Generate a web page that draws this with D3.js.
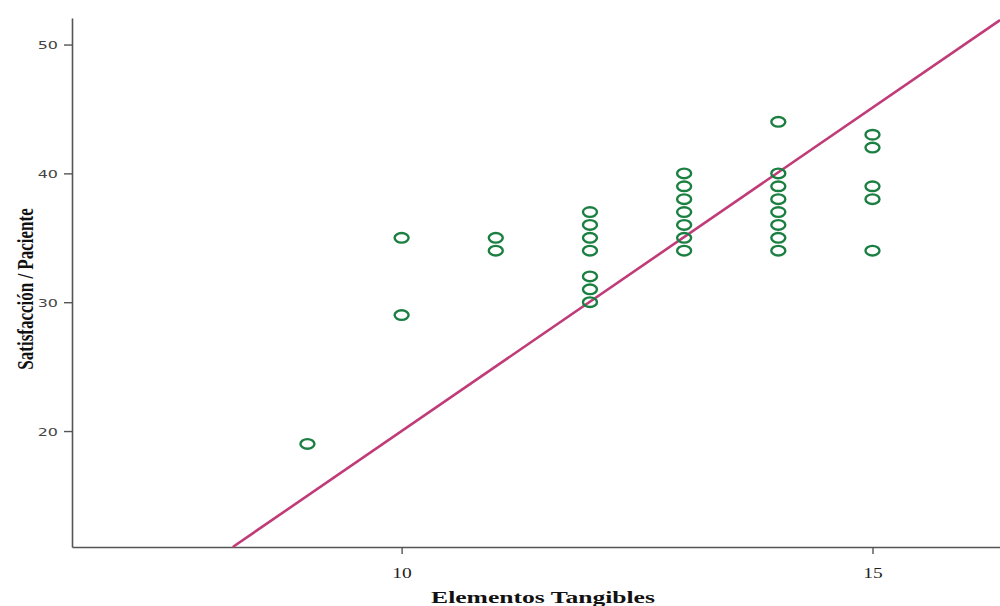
<!DOCTYPE html>
<html>
<head>
<meta charset="utf-8">
<script src="https://cdn.jsdelivr.net/npm/d3@7"></script>
<style>
  body { margin: 0; background: #fff; }
</style>
</head>
<body>
<div id="chart"></div>
<script>
// datos
var tangibles = [9, 10, 10, 11, 11,
  12, 12, 12, 12, 12, 12, 12,
  13, 13, 13, 13, 13, 13, 13,
  14, 14, 14, 14, 14, 14, 14, 14,
  15, 15, 15, 15, 15];
var satisfaccion = [19, 35, 29, 35, 34,
  37, 36, 35, 34, 32, 31, 30,
  40, 39, 38, 37, 36, 35, 34,
  44, 40, 39, 38, 37, 36, 35, 34,
  43, 42, 39, 38, 34];
var xTicks = [10, 15];
var yTicks = [20, 30, 40, 50];
// recta de ajuste
var pendiente = 5.02;
var intercepto = -30.2;

var W = 1000, H = 606;
var svg = d3.select('#chart').append('svg')
  .attr('width', W)
  .attr('height', H);

var x = d3.scaleLinear().domain([6.5, 16.354]).range([72, 1000]);
var y = d3.scaleLinear().domain([11, 52.06]).range([547, 18]);

var axisColor = '#555';

// eje y
var gy = svg.append('g')
  .attr('transform', 'translate(72,0)')
  .call(d3.axisLeft(y).tickValues(yTicks).tickSize(8).tickSizeOuter(0).tickFormat(d3.format('d')));
gy.select('.domain').attr('stroke', axisColor).attr('stroke-width', 1.6);
gy.selectAll('.tick line').attr('stroke', axisColor).attr('stroke-width', 1.4);
gy.selectAll('.tick text')
  .attr('x', null).attr('dy', null)
  .attr('transform', 'translate(-14,4) scale(1.45,1)')
  .attr('fill', '#444')
  .style('font-family', 'DejaVu Sans, sans-serif')
  .style('font-size', '11px');

// eje x
var gx = svg.append('g')
  .attr('transform', 'translate(0,547)')
  .call(d3.axisBottom(x).tickValues(xTicks).tickSize(7).tickSizeOuter(0).tickFormat(d3.format('d')));
gx.select('.domain').attr('stroke', axisColor).attr('stroke-width', 1.6);
gx.selectAll('.tick line').attr('stroke', axisColor).attr('stroke-width', 1.4);
gx.selectAll('.tick text')
  .attr('y', null).attr('dy', null)
  .attr('transform', 'translate(0,31) scale(1.3,1)')
  .attr('fill', '#222')
  .style('font-family', 'Liberation Serif, serif')
  .style('font-size', '15px');

// titulos
svg.append('text')
  .attr('transform', 'translate(543,603) scale(1.6,1)')
  .attr('text-anchor', 'middle')
  .style('font-family', 'Liberation Serif, serif')
  .style('font-weight', 'bold')
  .style('font-size', '16px')
  .attr('fill', '#111')
  .text('Elementos Tangibles');

svg.append('text')
  .attr('transform', 'translate(33,289) scale(1.3,1) rotate(-90)')
  .attr('text-anchor', 'middle')
  .style('font-family', 'Liberation Serif, serif')
  .style('font-weight', 'bold')
  .style('font-size', '17px')
  .attr('fill', '#111')
  .text('Satisfacción / Paciente');

// recta
var x0 = (y.domain()[0] - intercepto) / pendiente;
var x1 = x.domain()[1];
svg.append('line')
  .attr('x1', x(x0)).attr('y1', y(pendiente * x0 + intercepto))
  .attr('x2', x(x1)).attr('y2', y(pendiente * x1 + intercepto))
  .style('stroke', '#c03c78')
  .style('stroke-width', 2.6);

// puntos
var pts = tangibles.map(function (d, i) { return [d, satisfaccion[i]]; });
svg.selectAll('ellipse').data(pts).join('ellipse')
  .attr('cx', d => x(d[0]))
  .attr('cy', d => y(d[1]))
  .attr('rx', 7)
  .attr('ry', 4.8)
  .style('fill', 'none')
  .style('stroke', '#1c7f42')
  .style('stroke-width', 2.4);
</script>
</body>
</html>
